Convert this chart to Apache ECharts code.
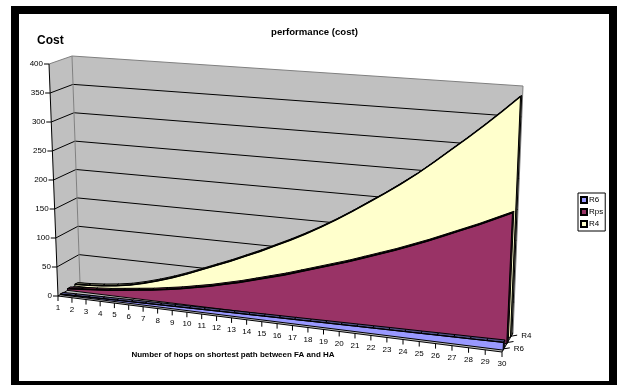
<html>
    <head>
        <meta charset="utf-8">
        <script src='https://cdn.jsdelivr.net/npm/echarts@6/dist/echarts.min.js'></script>
    </head>
    <body>
        <style>
            html, body, #main {
                width: 100%;
                height: 100%;
                margin: 0;
                background: #fff;
            }
        </style>
        <div id='main'></div>
        <script>
            var hops = [1,2,3,4,5,6,7,8,9,10,11,12,13,14,15,16,17,18,19,20,21,22,23,24,25,26,27,28,29,30];
            var costTicks = [0,50,100,150,200,250,300,350,400];
            var r6 = [1,1.4,1.8,2.2,2.6,3,3.4,3.8,4.2,4.6,5,5.4,5.8,6.1,6.5,6.9,7.2,7.6,8,8.3,8.7,9,9.4,9.7,10,10.4,10.7,11,11.4,11.8];
            var rps = [3,5,7,9,12,15,18,22,26,31,36,42,48,55,62,69,77,85,93,101,110,119,128,138,148,159,170,181,193,205];
            var r4 = [3,4,6,9,13,19,26,34,43,53,63,73,84,95,107,119,132,146,161,177,194,211,229,248,269,291,313,336,360,385];

            var FONT = '"Liberation Sans", Arial, sans-serif';
            var GRID = { left: 58, top: 64, width: 444, height: 232 };
            // floor and 400-level corners of the 3d box, on the screen
            var BOX = {
                f0: [58, 296], f1: [502, 352], b0: [80, 283], b1: [513, 333],
                f0t: [49, 64], f1t: [514, 90], b0t: [72, 56], b1t: [523, 86]
            };

            function lerp(a, b, k) { return a + (b - a) * k; }

            // t: along hops, v: along cost, d: depth from front (0) to back wall (1)
            function project(t, v, d) {
                var s = t / (1.1 - 0.1 * t);
                var out = [];
                for (var i = 0; i < 2; i++) {
                    var base = lerp(lerp(BOX.f0[i], BOX.f1[i], s), lerp(BOX.b0[i], BOX.b1[i], s), d);
                    var top = lerp(lerp(BOX.f0t[i], BOX.f1t[i], s), lerp(BOX.b0t[i], BOX.b1t[i], s), d);
                    out.push(lerp(base, top, v));
                }
                return out;
            }

            // goes through the axes of the grid, then into the box
            function point(api, hop, cost, d) {
                var p = api.coord([hop, cost]);
                var t = (p[0] - GRID.left) / GRID.width;
                var v = (GRID.top + GRID.height - p[1]) / GRID.height;
                return project(t, v, d);
            }

            function line(a, b, color, width) {
                return {
                    type: 'line',
                    shape: { x1: a[0], y1: a[1], x2: b[0], y2: b[1] },
                    style: { stroke: color, lineWidth: width || 1 }
                };
            }

            function label(text, x, y, align, size, weight) {
                return {
                    type: 'text',
                    style: {
                        x: x, y: y, text: text, fill: '#000',
                        font: (weight || 'normal') + ' ' + (size || 8) + 'px ' + FONT,
                        align: align || 'center', verticalAlign: 'middle'
                    }
                };
            }

            function renderBox(params, api) {
                var c = [];
                var last = costTicks[costTicks.length - 1];
                var first = hops[0], end = hops[hops.length - 1];
                function poly(pts, fill, stroke) {
                    c.push({ type: 'polygon', shape: { points: pts }, style: { fill: fill, stroke: stroke || null, lineWidth: 1 } });
                }
                poly([point(api, first, 0, 0), point(api, first, last, 0), point(api, first, last, 1), point(api, first, 0, 1)], '#c0c0c0');
                poly([point(api, first, 0, 1), point(api, first, last, 1), point(api, end, last, 1), point(api, end, 0, 1)], '#c0c0c0');
                poly([point(api, first, 0, 0), point(api, end, 0, 0), point(api, end, 0, 1), point(api, first, 0, 1)], '#c0c0c0');

                costTicks.forEach(function (v) {
                    var color = v === last ? '#808080' : '#000';
                    var front = point(api, first, v, 0);
                    c.push(line(front, point(api, first, v, 1), color));
                    c.push(line(point(api, first, v, 1), point(api, end, v, 1), color));
                    c.push(line([front[0] - 5, front[1]], front, '#000'));
                    c.push(label(String(v), front[0] - 6, front[1], 'right'));
                });
                c.push(line(point(api, first, 0, 1), point(api, first, last, 1), '#808080'));
                c.push(line(point(api, end, 0, 1), point(api, end, last, 1), '#808080'));
                c.push(line(point(api, first, 0, 0), point(api, first, last, 0), '#000'));
                c.push(line(point(api, first, 0, 0), point(api, end, 0, 0), '#000'));
                c.push(line(point(api, end, 0, 0), point(api, end, 0, 1), '#000'));

                hops.forEach(function (h) {
                    var p = point(api, h, 0, 0);
                    c.push(line(p, [p[0], p[1] + 5], '#000'));
                    c.push(label(String(h), p[0], p[1] + 12));
                });

                // depth axis, Rps has a tick but no label
                [['R6', 1 / 6], ['', 1 / 2], ['R4', 5 / 6]].forEach(function (s) {
                    var p = point(api, end, 0, s[1]);
                    c.push(line(p, [p[0] + 6, p[1] - 1], '#000'));
                    if (s[0]) c.push(label(s[0], p[0] + 10, p[1], 'left'));
                });
                return { type: 'group', children: c };
            }

            function areaSeries(name, values, color, dark, d0, d1, ridgeWidth) {
                return {
                    name: name,
                    type: 'custom',
                    coordinateSystem: 'cartesian2d',
                    silent: true,
                    itemStyle: { color: color, borderColor: '#000', borderWidth: 1 },
                    data: values.map(function (v, i) { return [hops[i], v]; }),
                    encode: { x: 0, y: 1 },
                    renderItem: function (params, api) {
                        if (params.dataIndex !== 0) return null;
                        var c = [];
                        var face = [point(api, hops[0], 0, d0)];
                        var ridge = [];
                        hops.forEach(function (h, i) {
                            var p = point(api, h, values[i], d0);
                            face.push(p);
                            ridge.push(p);
                            if (i > 0) {
                                c.push({
                                    type: 'polygon',
                                    shape: { points: [point(api, hops[i - 1], values[i - 1], d0), p, point(api, h, values[i], d1), point(api, hops[i - 1], values[i - 1], d1)] },
                                    style: { fill: dark, stroke: '#000', lineWidth: 1 }
                                });
                            }
                        });
                        var end = hops[hops.length - 1];
                        var topEnd = values[values.length - 1];
                        face.push(point(api, end, 0, d0));
                        c.push({
                            type: 'polygon',
                            shape: { points: [point(api, end, 0, d0), point(api, end, topEnd, d0), point(api, end, topEnd, d1), point(api, end, 0, d1)] },
                            style: { fill: dark, stroke: '#000', lineWidth: 1 }
                        });
                        c.push({ type: 'polygon', shape: { points: face }, style: { fill: color, stroke: '#000', lineWidth: 1 } });
                        c.push({ type: 'polyline', shape: { points: ridge }, style: { fill: null, stroke: '#000', lineWidth: ridgeWidth } });
                        return { type: 'group', children: c };
                    }
                };
            }

            var chart = echarts.init(document.getElementById('main'), null, { renderer: 'canvas' });

            var option = {
                animation: false,
                grid: { left: GRID.left, top: GRID.top, width: GRID.width, height: GRID.height },
                xAxis: { type: 'value', min: 1, max: 30, show: false },
                yAxis: { type: 'value', min: 0, max: 400, show: false },
                legend: {
                    left: 578, top: 193,
                    orient: 'vertical',
                    data: ['R6', 'Rps', 'R4'],
                    icon: 'rect',
                    itemWidth: 6, itemHeight: 6, itemGap: 4,
                    padding: [3, 2, 3, 2],
                    borderColor: '#000', borderWidth: 1,
                    backgroundColor: '#fff',
                    textStyle: { fontFamily: FONT, fontSize: 8, color: '#000', padding: [0, 0, 0, -3] }
                },
                graphic: [
                    { type: 'rect', z: -1, shape: { x: 15, y: 10, width: 598, height: 375 }, style: { fill: '#fff', stroke: '#000', lineWidth: 8 } },
                    { type: 'text', style: { x: 37, y: 41, text: 'Cost', fill: '#000', font: 'bold 12px ' + FONT, verticalAlign: 'middle' } },
                    { type: 'text', style: { x: 314.5, y: 32, text: 'performance (cost)', fill: '#000', font: 'bold 9.6px ' + FONT, align: 'center', verticalAlign: 'middle' } },
                    { type: 'text', style: { x: 233, y: 355, text: 'Number of hops on shortest path between FA and HA', fill: '#000', font: 'bold 8px ' + FONT, align: 'center', verticalAlign: 'middle' } }
                ],
                series: [
                    {
                        name: 'box',
                        type: 'custom',
                        coordinateSystem: 'cartesian2d',
                        silent: true,
                        data: [[1, 0]],
                        encode: { x: 0, y: 1 },
                        renderItem: renderBox
                    },
                    areaSeries('R4', r4, '#ffffcc', '#80806a', 0.767, 0.9, 1.5),
                    areaSeries('Rps', rps, '#993366', '#4d1a33', 0.433, 0.567, 1.5),
                    areaSeries('R6', r6, '#9999ff', '#4d4d80', 0.1, 0.233, 1)
                ]
            };

            chart.setOption(option);

            window.onresize = chart.resize;
        </script>
    </body>
</html>
